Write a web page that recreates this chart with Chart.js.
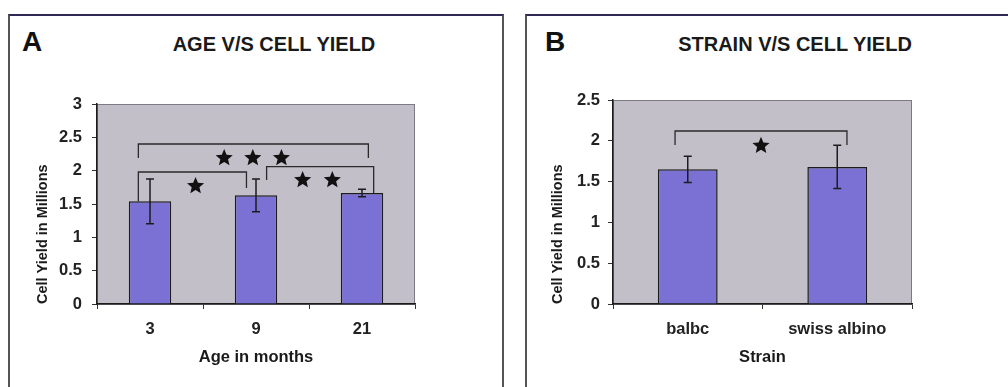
<!DOCTYPE html>
<html>
<head>
<meta charset="utf-8">
<script src="https://cdn.jsdelivr.net/npm/chart.js@4"></script>
<style>
  body { margin: 0; background: #fff; width: 1008px; height: 387px; overflow: hidden; position: relative; font-family: "Liberation Sans", Arial, sans-serif; }
  .frame { position: absolute; box-sizing: border-box; }
  #frameA { left: 8px; top: 14px; width: 496px; height: 400px; border-top: 2px solid #2e2a55; border-left: 2px solid #555; border-right: 2px solid #555; }
  #frameB { left: 525px; top: 14px; width: 500px; height: 400px; border-top: 2px solid #2e2a55; border-left: 2px solid #555; }
  .letter { position: absolute; font-weight: bold; font-size: 28px; line-height: 1; color: #111; }
  .title { position: absolute; width: 320px; text-align: center; font-weight: bold; font-size: 20px; line-height: 1; color: #1a1a1a; }
  canvas { position: absolute; }
</style>
</head>
<body>
<div class="frame" id="frameA"></div>
<div class="frame" id="frameB"></div>
<div class="letter" style="left:22px; top:28px;">A</div>
<div class="letter" style="left:545px; top:28px;">B</div>
<div class="title" style="left:114px; top:34px;">AGE V/S CELL YIELD</div>
<div class="title" style="left:635px; top:34px;">STRAIN V/S CELL YIELD</div>
<canvas id="chartA" width="492" height="371" style="left:10px; top:16px;"></canvas>
<canvas id="chartB" width="481" height="371" style="left:527px; top:16px;"></canvas>
<script>
// Panel A data
const ageLabels = ['3', '9', '21'];
const ageMeans = [1.54, 1.63, 1.665];
const ageErrors = [0.335, 0.245, 0.055];
// brackets: x in category units, y in millions
const ageBracketFrom = [-0.11, -0.11, 1.1];
const ageBracketTo = [2.06, 0.91, 2.11];
const ageBracketTop = [2.4, 1.98, 2.06];
const ageBracketLeftEnd = [2.19, 1.54, 1.86];
const ageBracketRightEnd = [2.19, 1.74, 1.665];
const ageStarX = [0.43, 0.70, 0.97, 1.24, 1.44, 1.72];
const ageStarY = [1.77, 2.19, 2.19, 2.19, 1.86, 1.86];

// Panel B data
const strainLabels = ['balbc', 'swiss albino'];
const strainMeans = [1.65, 1.68];
const strainErrors = [0.16, 0.265];
const strainBracketFrom = [-0.085];
const strainBracketTo = [1.065];
const strainBracketTop = [2.12];
const strainBracketLeftEnd = [1.95];
const strainBracketRightEnd = [1.95];
const strainStarX = [0.49];
const strainStarY = [1.94];

const FONT = "'Liberation Sans', Arial, sans-serif";
const PLOT_BG = '#c3bfc9';
const BAR_COLOR = '#7b70d4';
const INK = '#1c1c1c';

function drawStar(ctx, cx, cy, r) {
  ctx.beginPath();
  for (let i = 0; i < 10; i++) {
    const rad = i % 2 === 0 ? r : r * 0.45;
    const a = -Math.PI / 2 + i * Math.PI / 5;
    const px = cx + rad * Math.cos(a), py = cy + rad * Math.sin(a);
    if (i === 0) ctx.moveTo(px, py); else ctx.lineTo(px, py);
  }
  ctx.closePath();
  ctx.fill();
}

// plot area background + border
const plotBg = {
  id: 'plotBg',
  beforeDraw(chart) {
    const { ctx, chartArea: a } = chart;
    ctx.save();
    ctx.fillStyle = PLOT_BG;
    ctx.fillRect(a.left, a.top, a.right - a.left, a.bottom - a.top);
    ctx.strokeStyle = '#7d7a86';
    ctx.lineWidth = 1;
    ctx.strokeRect(a.left + 0.5, a.top + 0.5, a.right - a.left - 1, a.bottom - a.top);
    ctx.restore();
  }
};

// error bars, brackets and stars
const marks = {
  id: 'marks',
  afterDatasetsDraw(chart, args, opts) {
    const { ctx } = chart;
    const xs = chart.scales.x, ys = chart.scales.y;
    ctx.save();
    ctx.strokeStyle = INK;
    ctx.fillStyle = '#111';
    ctx.lineWidth = 1.5;
    // error bars
    chart.getDatasetMeta(0).data.forEach((bar, i) => {
      const hi = ys.getPixelForValue(opts.means[i] + opts.errors[i]);
      const lo = ys.getPixelForValue(opts.means[i] - opts.errors[i]);
      ctx.beginPath();
      ctx.moveTo(bar.x, hi); ctx.lineTo(bar.x, lo);
      ctx.moveTo(bar.x - 4, hi); ctx.lineTo(bar.x + 4, hi);
      ctx.moveTo(bar.x - 4, lo); ctx.lineTo(bar.x + 4, lo);
      ctx.stroke();
    });
    // brackets
    ctx.lineWidth = 1.3;
    ctx.strokeStyle = '#2a2a2a';
    opts.bFrom.forEach((f, i) => {
      const x1 = xs.getPixelForValue(f), x2 = xs.getPixelForValue(opts.bTo[i]);
      const yt = ys.getPixelForValue(opts.bTop[i]);
      ctx.beginPath();
      ctx.moveTo(x1, ys.getPixelForValue(opts.bLeft[i]));
      ctx.lineTo(x1, yt);
      ctx.lineTo(x2, yt);
      ctx.lineTo(x2, ys.getPixelForValue(opts.bRight[i]));
      ctx.stroke();
    });
    // significance stars
    opts.starX.forEach((sx, i) => {
      drawStar(ctx, xs.getPixelForValue(sx), ys.getPixelForValue(opts.starY[i]), 9);
    });
    ctx.restore();
  }
};

function makeChart(id, cfg) {
  const canvas = document.getElementById(id);
  return new Chart(canvas.getContext('2d'), {
    type: 'bar',
    data: {
      labels: cfg.labels,
      datasets: [{
        data: cfg.means,
        backgroundColor: BAR_COLOR,
        borderColor: INK,
        borderWidth: 1.5,
        categoryPercentage: 1,
        barPercentage: 0.4
      }]
    },
    options: {
      responsive: false,
      animation: false,
      layout: { padding: { left: 0, top: cfg.padTop, right: cfg.padRight, bottom: 0 } },
      plugins: {
        legend: { display: false },
        tooltip: { enabled: false },
        marks: cfg.marks
      },
      scales: {
        x: {
          grid: { drawOnChartArea: false, drawTicks: true, tickLength: 5, color: '#333', offset: true },
          border: { display: true, color: INK, width: 1.5 },
          ticks: { color: '#222', padding: 11, font: { family: FONT, size: 16.5, weight: 'bold' } },
          title: { display: true, text: cfg.xTitle, color: '#1a1a1a', padding: { top: 0, bottom: 20 },
                   font: { family: FONT, size: 16.5, weight: 'bold' } },
          afterFit: s => { s.height = cfg.xHeight; }
        },
        y: {
          min: 0, max: cfg.yMax,
          grid: { drawOnChartArea: false, drawTicks: true, tickLength: 5, color: '#333' },
          border: { display: true, color: INK, width: 1.5 },
          ticks: { stepSize: 0.5, color: '#222', padding: cfg.tickPad, callback: v => String(v),
                   font: { family: FONT, size: 16.5, weight: 'bold' } },
          title: { display: true, text: 'Cell Yield in Millions', align: 'start', color: '#1a1a1a',
                   padding: { top: cfg.yTitlePad, bottom: 0 }, font: { family: FONT, size: 14.5, weight: 'bold' } },
          afterFit: s => { s.width = cfg.yWidth; }
        }
      }
    },
    plugins: [plotBg, marks]
  });
}

makeChart('chartA', {
  labels: ageLabels, means: ageMeans, yMax: 3, xTitle: 'Age in months',
  padTop: 88, padRight: 87, xHeight: 83, yWidth: 87, tickPad: 10, yTitlePad: 24,
  marks: { means: ageMeans, errors: ageErrors, bFrom: ageBracketFrom, bTo: ageBracketTo,
           bTop: ageBracketTop, bLeft: ageBracketLeftEnd, bRight: ageBracketRightEnd,
           starX: ageStarX, starY: ageStarY }
});

makeChart('chartB', {
  labels: strainLabels, means: strainMeans, yMax: 2.5, xTitle: 'Strain',
  padTop: 84, padRight: 96, xHeight: 83, yWidth: 86, tickPad: 8, yTitlePad: 22,
  marks: { means: strainMeans, errors: strainErrors, bFrom: strainBracketFrom, bTo: strainBracketTo,
           bTop: strainBracketTop, bLeft: strainBracketLeftEnd, bRight: strainBracketRightEnd,
           starX: strainStarX, starY: strainStarY }
});
</script>
</body>
</html>
